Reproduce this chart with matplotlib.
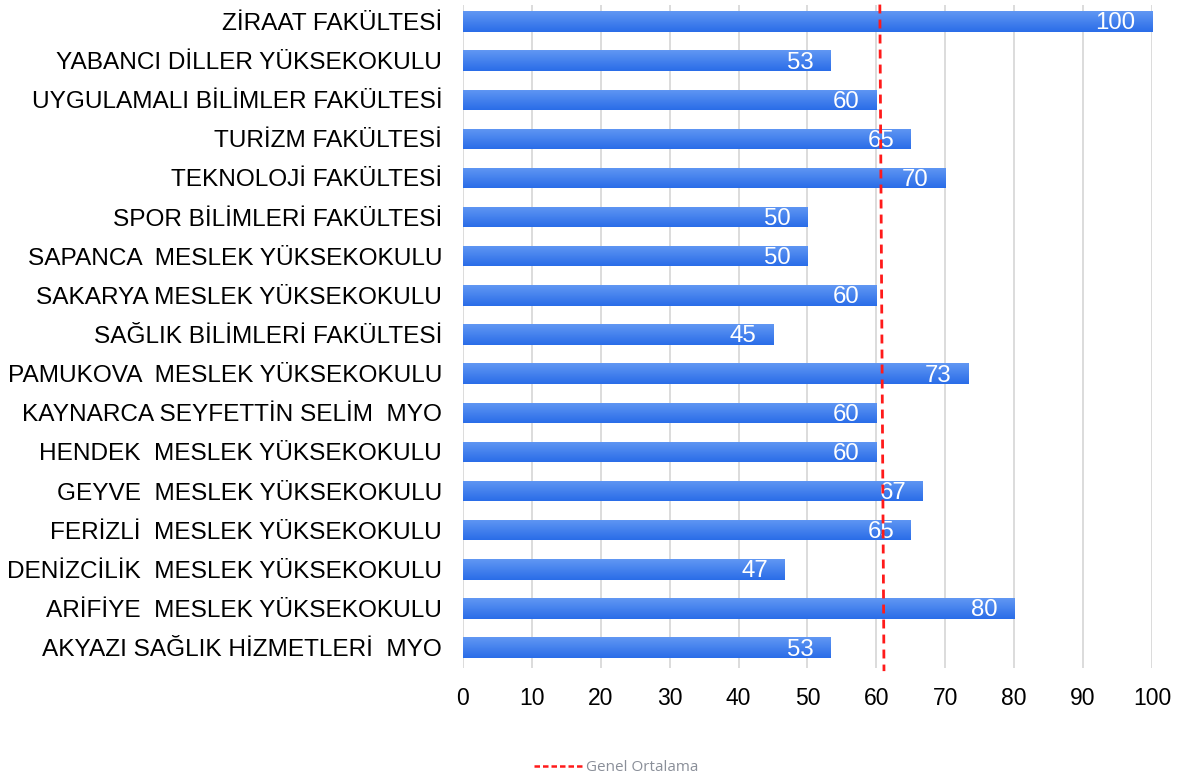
import numpy as np
import matplotlib
matplotlib.use("Agg")
import matplotlib.pyplot as plt
from matplotlib.colors import LinearSegmentedColormap
from matplotlib.lines import Line2D

categories = [
    "ZİRAAT FAKÜLTESİ",
    "YABANCI DİLLER YÜKSEKOKULU",
    "UYGULAMALI BİLİMLER FAKÜLTESİ",
    "TURİZM FAKÜLTESİ",
    "TEKNOLOJİ FAKÜLTESİ",
    "SPOR BİLİMLERİ FAKÜLTESİ",
    "SAPANCA  MESLEK YÜKSEKOKULU",
    "SAKARYA MESLEK YÜKSEKOKULU",
    "SAĞLIK BİLİMLERİ FAKÜLTESİ",
    "PAMUKOVA  MESLEK YÜKSEKOKULU",
    "KAYNARCA SEYFETTİN SELİM  MYO",
    "HENDEK  MESLEK YÜKSEKOKULU",
    "GEYVE  MESLEK YÜKSEKOKULU",
    "FERİZLİ  MESLEK YÜKSEKOKULU",
    "DENİZCİLİK  MESLEK YÜKSEKOKULU",
    "ARİFİYE  MESLEK YÜKSEKOKULU",
    "AKYAZI SAĞLIK HİZMETLERİ  MYO",
]
values = [100, 53.3, 60, 65, 70, 50, 50, 60, 45, 73.3, 60, 60, 66.7, 65, 46.7, 80, 53.3]
average_line = [60.5, 61.1]  # Genel Ortalama (top, bottom as drawn)
xticks = [0, 10, 20, 30, 40, 50, 60, 70, 80, 90, 100]

fig = plt.figure(figsize=(11.79, 7.78), dpi=100)
ax = fig.add_axes([0.3927, 0.1414, 0.9771 - 0.3927, 0.9936 - 0.1414])

y = np.arange(len(categories))
bar_h = 0.52
cmap = LinearSegmentedColormap.from_list("b", ["#2a6de8", "#6197f3"])
grad = np.linspace(0, 1, 64).reshape(-1, 1)

bars = ax.barh(y, values, height=bar_h, color="#3a7cf0", zorder=2)
for b in bars:
    x0, y0 = b.get_x(), b.get_y()
    w, h = b.get_width(), b.get_height()
    im = ax.imshow(grad, extent=[x0, x0 + w, y0 + h, y0], origin="lower",
                   cmap=cmap, aspect="auto", zorder=2.5)
    im.set_clip_path(b)

for yi, v in zip(y, values):
    ax.text(v - 2.4, yi + 0.05, f"{v:.0f}", color="white", ha="right", va="center",
            fontsize=17.3, family="Liberation Sans", zorder=4)

ax.plot(average_line, [-0.43, len(categories) - 0.5 + 0.1], color="#ff1a1a",
        linestyle=(0, (3.2, 2.2)), linewidth=2, zorder=5, clip_on=False)

ax.set_xlim(0, 100)
ax.set_ylim(len(categories) - 0.5 + 0.02, -0.42)
ax.set_xticks(xticks)
ax.set_yticks(y)
ax.set_yticklabels(categories, fontsize=17.6, family="Liberation Sans")
ax.set_xticklabels([str(t) for t in xticks], fontsize=16.5, family="Liberation Sans")
ax.tick_params(axis="y", length=0, pad=15)
ax.tick_params(axis="x", length=0, pad=14)
ax.grid(axis="x", color="#d9d9d9", linewidth=1.3, zorder=0)
ax.set_axisbelow(True)
for s in ax.spines.values():
    s.set_visible(False)

handle = Line2D([], [], color="#ff1a1a", linestyle=(0, (2.2, 1.2)), linewidth=1.8)
fig.legend([handle], ["Genel Ortalama"], loc="center", bbox_to_anchor=(0.523, 0.013),
           frameon=False, prop={"family": "Open Sans", "size": 11}, labelcolor="#8a8f99",
           handlelength=3.2, handletextpad=0.2)

fig.savefig("out.png", dpi=100)
